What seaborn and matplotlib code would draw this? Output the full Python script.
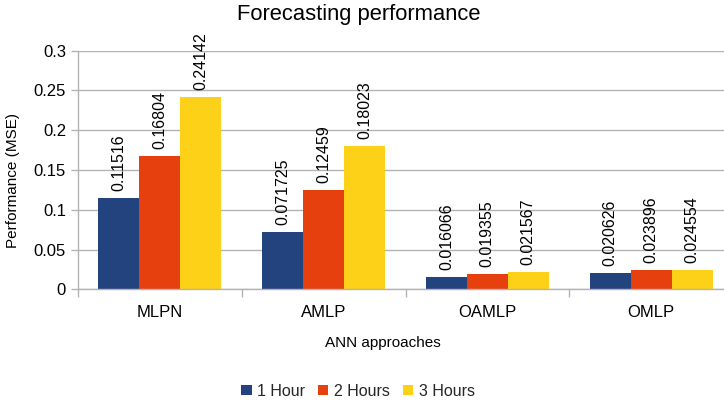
import matplotlib
matplotlib.use("Agg")
import matplotlib.pyplot as plt
import seaborn as sns
import pandas as pd
from matplotlib.patches import Patch
from matplotlib.ticker import FixedLocator

# ---- data ----
approaches = ["MLPN", "AMLP", "OAMLP", "OMLP"]
horizons = ["1 Hour", "2 Hours", "3 Hours"]
mse_1h = [0.11516, 0.071725, 0.016066, 0.020626]
mse_2h = [0.16804, 0.12459, 0.019355, 0.023896]
mse_3h = [0.24142, 0.18023, 0.021567, 0.024554]
y_ticks = [0, 0.05, 0.1, 0.15, 0.2, 0.25, 0.3]
y_tick_labels = ["0", "0.05", "0.1", "0.15", "0.2", "0.25", "0.3"]
colors = ["#23437f", "#e6400f", "#fcd117"]

rows = []
for h, vals in zip(horizons, [mse_1h, mse_2h, mse_3h]):
    for a, v in zip(approaches, vals):
        rows.append({"approach": a, "horizon": h, "mse": v})
df = pd.DataFrame(rows)

sns.set_theme(style="white")
plt.rcParams["font.family"] = ["Liberation Sans", "DejaVu Sans"]

W, H = 724, 403
fig = plt.figure(figsize=(W / 100, H / 100), dpi=100)
left, right, top, bottom = 78, 733, 50.7, 289.3
ax = fig.add_axes([left / W, 1 - bottom / H, (right - left) / W, (bottom - top) / H])

sns.barplot(data=df, x="approach", y="mse", hue="horizon", order=approaches,
            hue_order=horizons, palette=colors, width=0.75, saturation=1,
            linewidth=0, errorbar=None, legend=False, ax=ax)

for cont, vals in zip(ax.containers, [mse_1h, mse_2h, mse_3h]):
    ax.bar_label(cont, labels=[f"{v:g}" for v in vals], rotation=90,
                 padding=5, fontsize=11.5, color="#000000")

grid_c = "#b3b3b3"
ax.set_xlim(-0.5, 3.5)
ax.set_ylim(0, 0.3)
ax.set_yticks(y_ticks)
ax.set_yticklabels(y_tick_labels)
ax.yaxis.grid(True, color=grid_c, linewidth=1)
ax.set_axisbelow(True)
for s in ["top", "right"]:
    ax.spines[s].set_visible(False)
for s in ["left", "bottom"]:
    ax.spines[s].set_color(grid_c)
    ax.spines[s].set_linewidth(1)
ax.tick_params(axis="y", which="major", left=True, length=5, width=1,
               color=grid_c, pad=3.6, labelsize=12, labelcolor="#000000")
ax.tick_params(axis="x", which="major", bottom=False, length=0, pad=11.3,
               labelsize=12, labelcolor="#000000")
ax.xaxis.set_minor_locator(FixedLocator([-0.5, 0.5, 1.5, 2.5, 3.5]))
ax.tick_params(axis="x", which="minor", bottom=True, length=5.8, width=1,
               color=grid_c)
ax.set_xlabel("")
ax.set_ylabel("")

fig.text(359 / W, 1 - 14.5 / H, "Forecasting performance", ha="center",
         va="center", fontsize=15.8, color="#000000")
fig.text(13.5 / W, 1 - 180.5 / H, "Performance (MSE)", rotation=90,
         ha="center", va="center", fontsize=11, color="#000000")
fig.text(383 / W, 1 - 343 / H, "ANN approaches", ha="center", va="center",
         fontsize=11, color="#000000")

handles = [Patch(facecolor=c, edgecolor="none", label=h) for c, h in zip(colors, horizons)]
fig.legend(handles=handles, loc="center", bbox_to_anchor=(358 / W, 1 - 391 / H),
           ncol=3, frameon=False, fontsize=11.5, handlelength=0.65,
           handleheight=0.65, handletextpad=0.35, columnspacing=0.8,
           borderaxespad=0, borderpad=0)

fig.savefig("out.png", dpi=100)
